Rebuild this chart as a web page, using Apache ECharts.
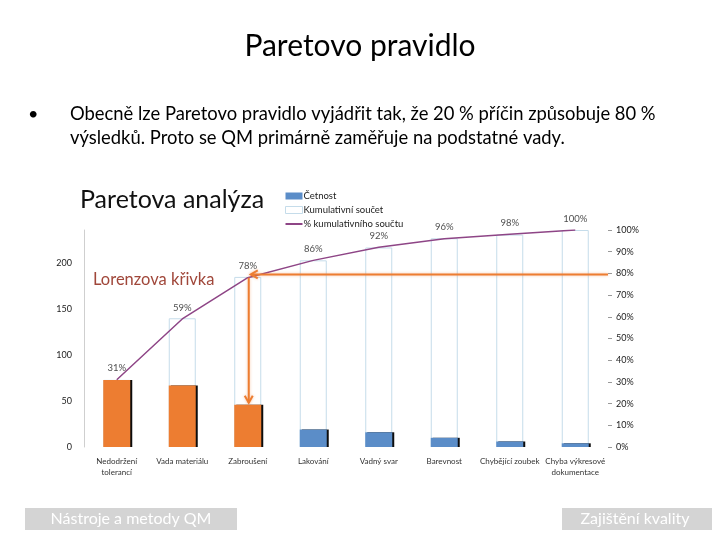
<!DOCTYPE html>
<html>
<head>
<meta charset="utf-8">
<script src="https://cdn.jsdelivr.net/npm/echarts@6/dist/echarts.min.js"></script>
<style>
html,body{margin:0;padding:0;background:#fff;}
#main{width:720px;height:540px;}
</style>
</head>
<body>
<div id="main"></div>
<script>
// ---- data ----
var categories = ['Nedodržení\ntolerancí', 'Vada materiálu', 'Zabroušení', 'Lakování', 'Vadný svar', 'Barevnost', 'Chybějící zoubek', 'Chyba výkresové\ndokumentace'];
var counts = [73, 67, 46, 19, 16, 10, 6, 4];
var cumulative = [73, 140, 185, 203, 217, 227, 231, 236];
var cumulativePct = [31, 59, 78, 86, 92, 96, 98, 100];
var highlighted = [true, true, true, false, false, false, false, false];
var leftTicks = [0, 50, 100, 150, 200];
var leftMax = 236;
var seriesNames = ['Četnost', 'Kumulativní součet', '% kumulativního součtu'];

var FONT = 'Lato';
var ORANGE = '#ED7D31';
var BLUE = '#5B8DC8';
var PURPLE = '#8E4586';

var chart = echarts.init(document.getElementById('main'), null, {renderer: 'canvas'});

var option = {
  animation: false,
  backgroundColor: '#ffffff',
  textStyle: {fontFamily: FONT},
  title: {
    text: 'Paretova analýza',
    left: 75, top: 182,
    textStyle: {fontFamily: FONT, fontSize: 25, fontWeight: 'normal', color: '#111'}
  },
  legend: {
    orient: 'vertical',
    left: 280, top: 186,
    itemWidth: 17, itemHeight: 7, itemGap: 4,
    textStyle: {fontFamily: FONT, fontSize: 9.5, color: '#222', padding: [0, 0, 0, -4]},
    data: [
      {name: seriesNames[0], icon: 'rect', itemStyle: {color: BLUE}},
      {name: seriesNames[1], icon: 'rect', itemStyle: {color: '#fff', borderColor: '#c5dcea', borderWidth: 1}},
      {name: seriesNames[2], icon: 'path://M0,0 L17,0 L17,2 L0,2 Z', itemStyle: {color: PURPLE}}
    ]
  },
  grid: {left: 84, right: 112, top: 230, bottom: 93, containLabel: false},
  xAxis: {
    type: 'category',
    data: categories,
    axisLine: {show: false},
    axisTick: {show: false},
    axisLabel: {fontFamily: FONT, fontSize: 8, color: '#333', interval: 0, margin: 9, lineHeight: 11}
  },
  yAxis: [
    {
      type: 'value', min: 0, max: leftMax, interval: 50,
      splitLine: {show: false},
      axisLine: {show: true, lineStyle: {color: '#cfcfcf', width: 1}},
      axisTick: {show: false},
      axisLabel: {
        fontFamily: FONT, fontSize: 9, color: '#222', margin: 12,
        formatter: function (v) { return leftTicks.indexOf(v) >= 0 ? String(v) : ''; }
      }
    },
    {
      type: 'value', min: 0, max: 100, interval: 10,
      splitLine: {show: false},
      axisLine: {show: false},
      axisTick: {show: true, length: 4, lineStyle: {color: '#999'}},
      axisLabel: {fontFamily: FONT, fontSize: 9, color: '#222', margin: 8, formatter: '{value}%'}
    }
  ],
  series: [
    {
      name: seriesNames[1],
      type: 'bar',
      data: cumulative,
      barWidth: 27,
      barGap: '-100%',
      z: 1,
      itemStyle: {color: 'rgba(255,255,255,0)', borderColor: '#c5dcea', borderWidth: 1}
    },
    {
      name: seriesNames[0],
      type: 'bar',
      data: counts.map(function (v, i) {
        return {value: v, itemStyle: {color: highlighted[i] ? ORANGE : BLUE}};
      }),
      barWidth: 27,
      barGap: '-100%',
      z: 2,
      itemStyle: {color: BLUE, shadowColor: 'rgba(0,0,0,0.95)', shadowOffsetX: 2, shadowOffsetY: 0, shadowBlur: 0}
    },
    {
      name: seriesNames[2],
      type: 'line',
      yAxisIndex: 1,
      data: cumulativePct,
      symbol: 'none',
      z: 3,
      lineStyle: {color: PURPLE, width: 1.5},
      itemStyle: {color: PURPLE}
    },
    {
      name: 'pctLabels',
      type: 'scatter',
      yAxisIndex: 1,
      data: cumulativePct,
      symbolSize: 1,
      z: 4,
      silent: true,
      itemStyle: {color: 'rgba(0,0,0,0)'},
      label: {show: true, position: 'top', distance: 6, fontFamily: FONT, fontSize: 9.5, color: '#1a1a1a', formatter: '{c}%'}
    }
  ],
  graphic: []
};

chart.setOption(option);

// ---- annotation arrows computed via the chart's own scales ----
function annotate() {
  var idx = 2; // Zabroušení
  var pPoint = chart.convertToPixel({xAxisIndex: 0, yAxisIndex: 1}, [idx, cumulativePct[idx]]);
  var p80 = chart.convertToPixel({xAxisIndex: 0, yAxisIndex: 1}, [idx, 80]);
  var pBar = chart.convertToPixel({xAxisIndex: 0, yAxisIndex: 0}, [idx, counts[idx]]);
  var pFirst = chart.convertToPixel({xAxisIndex: 0, yAxisIndex: 1}, [0, 80]);
  var pLast = chart.convertToPixel({xAxisIndex: 0, yAxisIndex: 1}, [categories.length - 1, 80]);
  var halfBand = (pLast[0] - pFirst[0]) / (categories.length - 1) / 2;
  var xEnd = pLast[0] + halfBand;
  var x0 = pPoint[0] + 1;
  var yh = p80[1] + 1;
  var style = {stroke: ORANGE, lineWidth: 2, fill: null, shadowBlur: 3, shadowColor: 'rgba(237,125,49,0.45)'};
  var g = [];
  g.push({type: 'line', z: 10, shape: {x1: x0 + 2, y1: yh, x2: xEnd, y2: yh}, style: style});
  g.push({type: 'polyline', z: 10, shape: {points: [[x0 + 9, yh - 4], [x0 + 2, yh], [x0 + 9, yh + 4]]}, style: style});
  g.push({type: 'line', z: 10, shape: {x1: x0, y1: pPoint[1], x2: x0, y2: pBar[1] - 2}, style: style});
  g.push({type: 'polyline', z: 10, shape: {points: [[x0 - 4, pBar[1] - 9], [x0, pBar[1] - 2], [x0 + 4, pBar[1] - 9]]}, style: style});
  g.push({type: 'text', z: 10, left: 93, top: 271, style: {text: 'Lorenzova křivka', font: '16.5px ' + FONT, fill: '#A0473A'}});
  g.push({type: 'text', z: 10, left: 'center', top: 31, style: {text: 'Paretovo pravidlo', font: '30px ' + FONT, fill: '#000'}});
  g.push({type: 'text', z: 10, left: 28, top: 105, style: {text: '•', font: '18px ' + FONT, fill: '#000'}});
  g.push({type: 'text', z: 10, left: 70, top: 105, style: {text: 'Obecně lze Paretovo pravidlo vyjádřit tak, že 20 % příčin způsobuje 80 %', font: '18.4px ' + FONT, fill: '#000'}});
  g.push({type: 'text', z: 10, left: 70, top: 129, style: {text: 'výsledků. Proto se QM primárně zaměřuje na podstatné vady.', font: '18.4px ' + FONT, fill: '#000'}});
  g.push({type: 'rect', z: 10, shape: {x: 25, y: 508, width: 212, height: 22}, style: {fill: '#D4D4D4'}});
  g.push({type: 'text', z: 11, x: 131, y: 519, style: {text: 'Nástroje a metody QM', font: '16px ' + FONT, fill: '#fff', align: 'center', verticalAlign: 'middle'}});
  g.push({type: 'rect', z: 10, shape: {x: 562, y: 508, width: 150, height: 22}, style: {fill: '#D4D4D4'}});
  g.push({type: 'text', z: 11, x: 635, y: 519, style: {text: 'Zajištění kvality', font: '16px ' + FONT, fill: '#fff', align: 'center', verticalAlign: 'middle'}});
  chart.setOption({graphic: g});
}
annotate();
</script>
</body>
</html>
